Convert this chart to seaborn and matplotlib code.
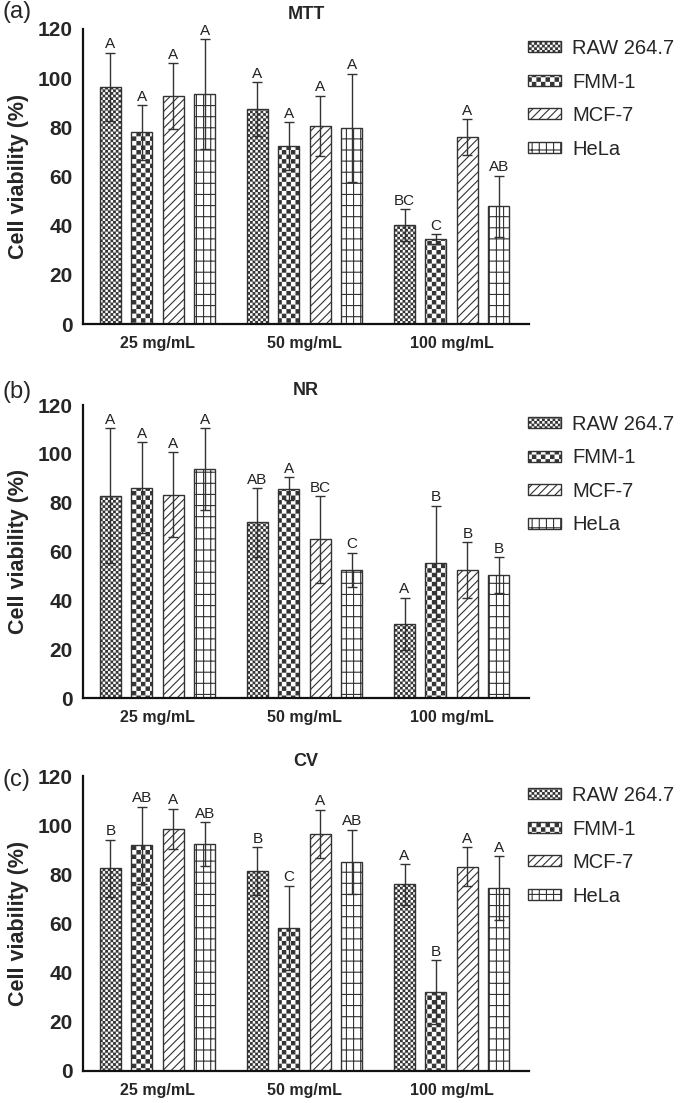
import numpy as np
import pandas as pd
import matplotlib
matplotlib.use("Agg")
import matplotlib.pyplot as plt
import matplotlib.patches as mpatches
import matplotlib.hatch as mhatch
from matplotlib.path import Path
import seaborn as sns

# ---------------- data ----------------
concentrations = ["25 mg/mL", "50 mg/mL", "100 mg/mL"]
cell_lines = ["RAW 264.7", "FMM-1", "MCF-7", "HeLa"]

mtt_mean = {"RAW 264.7": [96.4, 87.4, 40.3], "FMM-1": [77.9, 72.3, 34.5],
            "MCF-7": [92.7, 80.6, 76.0], "HeLa": [93.6, 79.7, 47.8]}
mtt_sd = {"RAW 264.7": [14.0, 11.0, 6.4], "FMM-1": [11.0, 9.8, 2.0],
          "MCF-7": [13.4, 12.2, 7.3], "HeLa": [22.3, 22.1, 12.5]}
mtt_letters = {"RAW 264.7": ["A", "A", "BC"], "FMM-1": ["A", "A", "C"],
               "MCF-7": ["A", "A", "A"], "HeLa": ["A", "A", "AB"]}

nr_mean = {"RAW 264.7": [82.8, 71.9, 30.3], "FMM-1": [86.1, 85.7, 55.3],
           "MCF-7": [83.3, 65.0, 52.5], "HeLa": [93.8, 52.4, 50.4]}
nr_sd = {"RAW 264.7": [27.6, 14.1, 10.8], "FMM-1": [18.6, 4.8, 23.5],
         "MCF-7": [17.4, 17.7, 11.4], "HeLa": [16.6, 7.1, 7.3]}
nr_letters = {"RAW 264.7": ["A", "AB", "A"], "FMM-1": ["A", "A", "B"],
              "MCF-7": ["A", "BC", "B"], "HeLa": ["A", "C", "B"]}

cv_mean = {"RAW 264.7": [82.4, 81.3, 75.9], "FMM-1": [91.8, 58.2, 32.2],
           "MCF-7": [98.5, 96.4, 83.1], "HeLa": [92.2, 85.1, 74.5]}
cv_sd = {"RAW 264.7": [11.7, 9.7, 8.3], "FMM-1": [15.7, 17.1, 12.9],
         "MCF-7": [8.1, 9.8, 7.9], "HeLa": [8.9, 13.0, 12.9]}
cv_letters = {"RAW 264.7": ["B", "B", "A"], "FMM-1": ["AB", "C", "B"],
              "MCF-7": ["A", "A", "A"], "HeLa": ["AB", "AB", "A"]}

panels = [("(a)", "MTT", mtt_mean, mtt_sd, mtt_letters),
          ("(b)", "NR", nr_mean, nr_sd, nr_letters),
          ("(c)", "CV", cv_mean, cv_sd, cv_letters)]

y_ticks = [0, 20, 40, 60, 80, 100, 120]


# ---------------- custom hatches (checkerboards and a grid) ----------------
class _Checker(mhatch.HatchPatternBase):
    char = "o"
    cells_per_unit = 22
    margin = 0.005

    def __init__(self, hatch, density):
        self.num_vertices = 0
        if hatch.count(self.char):
            n = self.cells_per_unit
            self.n = n
            self.cells = [(i, j) for i in range(n) for j in range(n) if (i + j) % 2 == 0]
            self.num_vertices = 5 * len(self.cells)

    def set_vertices_and_codes(self, vertices, codes):
        s = 1.0 / self.n
        m = self.margin
        k = 0
        for (i, j) in self.cells:
            x0, y0 = i * s + m, j * s + m
            x1, y1 = (i + 1) * s - m, (j + 1) * s - m
            vertices[k:k + 5] = [(x0, y0), (x1, y0), (x1, y1), (x0, y1), (x0, y0)]
            codes[k:k + 5] = [Path.MOVETO, Path.LINETO, Path.LINETO, Path.LINETO, Path.CLOSEPOLY]
            k += 5


class _CheckerCoarse(_Checker):
    char = "o"
    cells_per_unit = 22
    margin = 0.006


class _CheckerFine(_Checker):
    char = "O"
    cells_per_unit = 38
    margin = 0.005


class _Grid(mhatch.HatchPatternBase):
    n_rows = 9
    n_cols = 14

    def __init__(self, hatch, density):
        self.on = hatch.count("*") > 0
        self.num_vertices = 2 * (self.n_rows + self.n_cols) if self.on else 0

    def set_vertices_and_codes(self, vertices, codes):
        k = 0
        for i in range(self.n_rows):
            y = (i + 0.5) / self.n_rows
            vertices[k:k + 2] = [(0.0, y), (1.0, y)]
            codes[k:k + 2] = [Path.MOVETO, Path.LINETO]
            k += 2
        for i in range(self.n_cols):
            x = (i + 0.5) / self.n_cols
            vertices[k:k + 2] = [(x, 0.0), (x, 1.0)]
            codes[k:k + 2] = [Path.MOVETO, Path.LINETO]
            k += 2


mhatch._hatch_types[:] = [t for t in mhatch._hatch_types
                          if t not in (mhatch.SmallCircles, mhatch.LargeCircles, mhatch.Stars)] \
    + [_CheckerCoarse, _CheckerFine, _Grid]

hatches = {"RAW 264.7": "O", "FMM-1": "o", "MCF-7": "////", "HeLa": "*"}

# ---------------- style ----------------
sns.set_style("white")
plt.rcParams["font.family"] = ["Liberation Sans", "DejaVu Sans"]
plt.rcParams["hatch.linewidth"] = 0.8
plt.rcParams["hatch.color"] = "#222222"

EDGE = "#333333"

fig = plt.figure(figsize=(6.8, 11.03), dpi=100)
W, H = 680.0, 1103.0
axes_px = [(29, 324), (405, 698), (776, 1071)]
label_y = [12, 392, 780]

for (plabel, title, means, sds, letters), (top, bot), ly in zip(panels, axes_px, label_y):
    ax = fig.add_axes([83 / W, 1 - bot / H, 446 / W, (bot - top) / H])
    rows = []
    for cl in cell_lines:
        for i, c in enumerate(concentrations):
            rows.append({"conc": c, "cell": cl, "mean": means[cl][i]})
    df = pd.DataFrame(rows)
    sns.barplot(data=df, x="conc", y="mean", hue="cell", order=concentrations,
                hue_order=cell_lines, palette=["white"] * 4, saturation=1,
                width=0.855, gap=0.33, errorbar=None, edgecolor=EDGE,
                linewidth=1.0, legend=False, ax=ax)

    # assign hatches / gather bar positions
    bars = [p for p in ax.patches if isinstance(p, mpatches.Rectangle)]
    by_group = {}
    for p in bars:
        cx = p.get_x() + p.get_width() / 2
        by_group.setdefault(int(round(cx)), []).append((cx, p))
    xs, ys, es, labs = [], [], [], []
    for g, lst in by_group.items():
        lst.sort(key=lambda t: t[0])
        for h, (cx, p) in enumerate(lst):
            cl = cell_lines[h]
            p.set_hatch(hatches[cl])
            p.set_zorder(2)
            xs.append(cx)
            ys.append(means[cl][g])
            es.append(sds[cl][g])
            labs.append(letters[cl][g])

    ax.errorbar(xs, ys, yerr=es, fmt="none", ecolor=EDGE, elinewidth=1.0,
                capsize=3.6, capthick=1.0, zorder=3)
    for x, y, e, t in zip(xs, ys, es, labs):
        ax.annotate(t, (x, y + e), xytext=(0, 3.2), textcoords="offset points",
                    ha="center", va="baseline", fontsize=11, color="#222222",
                    annotation_clip=False)

    ax.set_xlim(-0.507, 2.526)
    ax.set_ylim(0, 120)
    ax.set_yticks(y_ticks)
    ax.set_xlabel("")
    ax.set_ylabel("Cell viability (%)", fontsize=15.5, fontweight="bold", labelpad=6)
    ax.set_title(title, fontsize=13, fontweight="bold", pad=7)
    for s in ["top", "right"]:
        ax.spines[s].set_visible(False)
    for s in ["left", "bottom"]:
        ax.spines[s].set_linewidth(1.6)
        ax.spines[s].set_color("#111111")
    ax.tick_params(axis="both", direction="out", length=5.5, width=1.6, color="#111111")
    ax.tick_params(axis="y", labelsize=15, pad=2)
    ax.tick_params(axis="x", labelsize=11.5, pad=3)
    for lab in ax.get_yticklabels() + ax.get_xticklabels():
        lab.set_fontweight("bold")

    handles = [mpatches.Patch(facecolor="white", edgecolor=EDGE, hatch=hatches[cl],
                              linewidth=1.0, label=cl) for cl in cell_lines]
    ax.legend(handles=handles, loc="upper left", bbox_to_anchor=(0.998, 0.966),
              frameon=False, fontsize=14.5, handlelength=1.65, handleheight=0.45,
              handletextpad=0.55, labelspacing=0.72, borderpad=0, borderaxespad=0)

    fig.text(2 / W, 1 - ly / H, plabel, fontsize=17, ha="left", va="center")

fig.savefig("out.png", dpi=100)
